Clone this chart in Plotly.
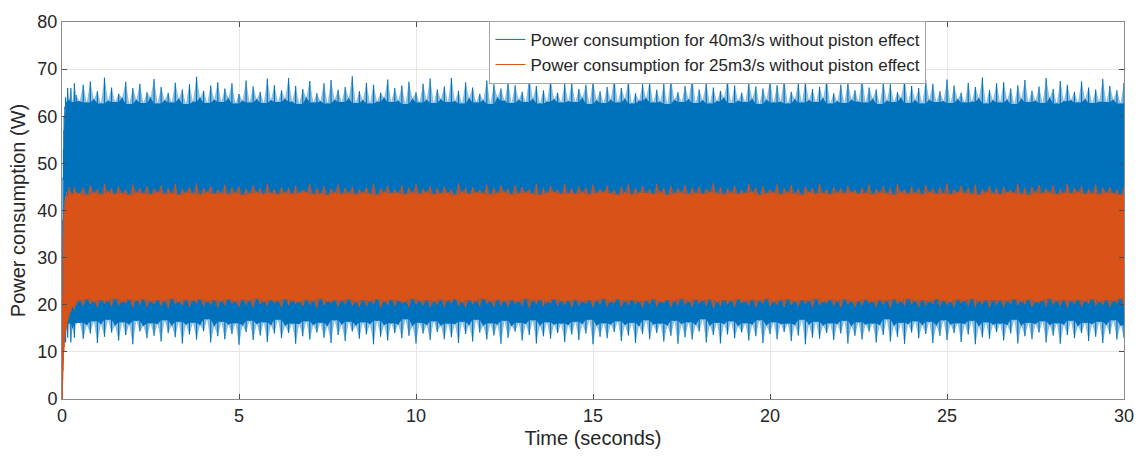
import numpy as np
import plotly.graph_objects as go

# Sample times (s): fine steps through the start-up, then every 0.1 s
t_start = [0, 0.01, 0.02, 0.03, 0.04, 0.05, 0.06, 0.08, 0.1, 0.13, 0.16, 0.2, 0.25, 0.3, 0.35, 0.4]
t_steady = np.round(np.arange(0.5, 30.0001, 0.1), 2).tolist()
time = t_start + t_steady

# 40 m3/s case: upper and lower peaks of the power signal (W)
p40_hi_start = [0, 22, 38, 47, 53, 57, 60, 62, 64, 63, 66, 63.5, 66, 63, 67, 64.5]
p40_hi = [
    63.2, 66.7, 62.9, 67.4, 63.6, 65.3, 62.7, 68.2, 63.3, 66.1, 63.0, 64.8, 63.9, 67.3, 62.6, 66.0, 63.5, 66.9, 62.8, 65.1,
    64.0, 67.9, 62.7, 66.2, 63.4, 65.0, 62.9, 67.1, 63.7, 65.7, 62.6, 66.8, 63.1, 68.4, 63.9, 65.4, 62.8, 66.5, 63.5, 67.2,
    63.0, 65.9, 63.8, 67.0, 62.7, 64.7, 63.3, 67.6, 62.9, 66.3, 63.6, 65.2, 62.8, 68.0, 63.4, 66.6, 63.0, 65.5, 63.7, 68.1,
    63.1, 66.4, 62.6, 65.8, 64.0, 67.5, 62.9, 64.9, 63.2, 67.0, 62.7, 67.7, 63.5, 65.6, 63.0, 66.2, 63.8, 68.5, 62.8, 65.3,
    63.4, 67.1, 62.7, 66.7, 63.1, 65.0, 63.9, 67.8, 63.0, 66.0, 63.3, 66.5, 62.6, 67.3, 63.7, 65.1, 62.9, 66.9, 63.5, 68.0,
    62.8, 65.7, 63.6, 66.3, 63.0, 68.1, 63.2, 65.4, 62.7, 67.2, 63.8, 66.1, 62.9, 64.8, 63.4, 67.6, 62.6, 66.8, 64.0, 65.9,
    63.3, 67.4, 62.8, 66.6, 63.5, 65.2, 63.0, 68.3, 63.7, 66.4, 62.7, 65.5, 63.1, 67.9, 63.6, 65.0, 62.9, 67.0, 63.2, 67.1,
    63.0, 65.8, 63.9, 66.7, 62.6, 67.7, 63.4, 65.3, 62.8, 66.2, 63.5, 68.2, 62.9, 66.0, 63.7, 67.5, 62.7, 64.9, 63.3, 66.8,
    63.8, 67.3, 62.9, 65.6, 63.1, 66.9, 62.6, 68.0, 63.5, 65.1, 63.0, 66.4, 63.6, 68.4, 62.8, 65.7, 63.4, 67.2, 62.7, 66.1,
    63.2, 65.4, 63.9, 67.8, 62.8, 66.5, 63.3, 65.0, 63.0, 67.1, 63.7, 66.3, 62.6, 65.9, 63.5, 67.7, 62.9, 66.6, 63.1, 68.1,
    62.7, 65.2, 63.6, 67.0, 62.9, 67.5, 63.4, 65.8, 63.0, 66.2, 63.8, 67.9, 62.7, 64.9, 63.2, 66.7, 62.8, 67.4, 63.5, 65.5,
    63.1, 68.3, 62.9, 66.1, 63.7, 65.7, 62.6, 67.3, 63.3, 66.8, 63.0, 65.1, 63.9, 68.0, 62.8, 66.4, 63.4, 66.0, 62.7, 67.6,
    63.5, 66.9, 63.0, 65.3, 63.2, 67.8, 62.8, 66.5, 63.6, 65.0, 62.9, 67.1, 63.1, 66.2, 63.8, 68.2, 62.7, 65.6, 63.4, 67.0,
    62.9, 67.2, 63.5, 65.9, 62.6, 66.6, 63.7, 67.7, 63.0, 65.4, 63.3, 66.3, 62.8, 68.1, 63.9, 65.8, 62.7, 67.5, 63.2, 66.7,
    63.4, 65.2, 62.9, 67.4, 63.6, 66.1, 62.8, 65.7, 63.1, 67.9, 63.0, 66.4, 63.5, 65.5, 62.7, 67.1,
]
p40_lo_start = [0, 4, 8, 11, 12, 13, 12, 14, 12, 15, 13, 16, 12, 15, 13, 16]
p40_lo = [
    16.2, 12.8, 15.7, 13.9, 16.5, 11.9, 15.9, 13.2, 16.8, 14.1, 15.6, 12.4, 16.3, 13.6, 15.8, 11.6, 16.6, 14.3, 15.5, 12.9,
    16.1, 13.4, 15.9, 12.2, 16.7, 14.0, 15.6, 13.1, 16.4, 11.8, 15.8, 13.7, 16.2, 12.6, 15.7, 14.4, 16.9, 12.0, 15.5, 13.3,
    16.4, 12.7, 15.8, 13.8, 16.1, 11.5, 15.6, 14.2, 16.6, 12.5, 15.9, 13.5, 16.3, 12.1, 15.7, 13.9, 16.8, 12.9, 15.6, 14.0,
    16.0, 11.7, 15.9, 13.3, 16.5, 12.6, 15.7, 14.1, 16.2, 13.0, 15.5, 11.9, 16.7, 13.6, 15.8, 12.3, 16.4, 14.3, 15.6, 12.8,
    16.3, 13.7, 15.9, 11.6, 16.6, 13.2, 15.7, 12.4, 16.1, 14.0, 15.8, 12.9, 16.9, 13.4, 15.5, 11.8, 16.2, 13.9, 15.7, 12.5,
    16.5, 14.2, 15.6, 12.7, 16.0, 13.1, 15.9, 11.9, 16.4, 13.8, 15.7, 12.2, 16.8, 14.1, 15.6, 12.6, 16.1, 13.5, 15.8, 11.7,
    16.6, 13.0, 15.5, 14.3, 16.2, 12.4, 15.9, 13.6, 16.7, 11.8, 15.6, 13.3, 16.3, 12.8, 15.8, 14.0, 16.0, 12.1, 15.7, 13.7,
    16.4, 12.5, 15.9, 13.9, 16.8, 11.6, 15.6, 13.2, 16.1, 12.9, 15.8, 14.2, 16.5, 12.3, 15.7, 13.5, 16.2, 11.9, 15.5, 13.8,
    16.7, 12.7, 15.8, 14.0, 16.0, 12.2, 15.6, 13.4, 16.6, 11.7, 15.9, 13.1, 16.3, 12.6, 15.7, 14.3, 16.9, 12.0, 15.6, 13.6,
    16.2, 11.8, 15.9, 13.7, 16.5, 12.9, 15.5, 14.1, 16.1, 12.4, 15.8, 13.3, 16.7, 11.9, 15.6, 13.8, 16.3, 12.7, 15.9, 14.2,
    16.0, 12.3, 15.7, 13.5, 16.8, 11.6, 15.8, 13.0, 16.4, 12.8, 15.6, 14.0, 16.1, 12.5, 15.9, 13.9, 16.6, 11.8, 15.5, 13.4,
    16.3, 12.6, 15.8, 14.3, 16.0, 12.0, 15.7, 13.6, 16.9, 12.2, 15.6, 13.2, 16.2, 11.7, 15.9, 14.1, 16.5, 12.9, 15.7, 13.8,
    16.4, 11.9, 15.6, 13.4, 16.7, 12.5, 15.8, 14.0, 16.1, 12.1, 15.9, 13.7, 16.6, 11.6, 15.5, 13.1, 16.3, 12.8, 15.8, 14.2,
    16.0, 12.4, 15.7, 13.9, 16.8, 11.8, 15.6, 13.3, 16.2, 12.7, 15.9, 14.1, 16.5, 12.0, 15.7, 13.5, 16.1, 11.7, 15.8, 13.6,
    16.6, 12.9, 15.5, 14.0, 16.2, 12.3, 15.9, 13.2, 16.4, 11.9, 15.7, 13.8, 16.7, 12.6, 15.6, 13.0,
]

# 25 m3/s case: upper and lower peaks of the power signal (W)
p25_hi_start = [0, 12, 22, 30, 35, 38, 40, 42, 43, 44, 43, 45, 44, 43.5, 45, 44]
p25_hi = [
    43.6, 44.9, 43.3, 45.4, 43.8, 44.5, 43.4, 45.7, 43.9, 44.7, 43.5, 45.1, 43.7, 44.4, 43.3, 45.5, 43.8, 44.8, 43.6, 45.2,
    43.4, 44.6, 43.9, 45.3, 43.5, 44.8, 43.7, 45.6, 43.3, 44.5, 43.8, 45.0, 43.6, 45.8, 43.4, 44.7, 43.9, 45.2, 43.5, 44.4,
    43.7, 45.5, 43.4, 44.9, 43.8, 45.1, 43.3, 44.6, 43.6, 45.4, 43.9, 44.7, 43.5, 45.7, 43.7, 44.5, 43.4, 45.0, 43.8, 44.8,
    43.5, 45.3, 43.7, 44.4, 43.9, 45.6, 43.4, 44.9, 43.6, 45.2, 43.3, 44.6, 43.8, 45.5, 43.5, 44.8, 43.7, 45.1, 43.4, 44.5,
    43.8, 45.0, 43.5, 45.7, 43.3, 44.7, 43.9, 45.3, 43.6, 44.4, 43.7, 45.4, 43.4, 44.9, 43.8, 45.6, 43.5, 44.6, 43.9, 45.2,
    43.4, 44.8, 43.6, 45.1, 43.7, 44.5, 43.3, 45.8, 43.9, 44.7, 43.5, 45.0, 43.8, 44.4, 43.6, 45.5, 43.4, 44.9, 43.7, 45.3,
    43.9, 44.6, 43.4, 45.4, 43.6, 45.0, 43.8, 44.5, 43.5, 45.7, 43.3, 44.8, 43.7, 45.2, 43.9, 44.4, 43.5, 45.6, 43.6, 44.7,
    43.5, 45.1, 43.8, 44.9, 43.4, 45.5, 43.7, 44.6, 43.9, 45.3, 43.6, 44.4, 43.3, 45.0, 43.8, 45.7, 43.4, 44.8, 43.7, 45.2,
    43.7, 44.5, 43.5, 45.6, 43.9, 44.8, 43.3, 45.2, 43.6, 44.7, 43.8, 45.4, 43.4, 44.9, 43.7, 45.1, 43.5, 44.6, 43.9, 45.8,
    43.6, 45.0, 43.4, 44.7, 43.8, 45.3, 43.5, 44.4, 43.7, 45.6, 43.9, 44.9, 43.3, 45.2, 43.6, 44.5, 43.8, 45.5, 43.4, 44.8,
    43.8, 45.4, 43.6, 44.6, 43.3, 45.1, 43.9, 44.8, 43.5, 45.7, 43.7, 44.5, 43.4, 45.0, 43.8, 44.7, 43.6, 45.3, 43.9, 44.4,
    43.5, 44.9, 43.7, 45.5, 43.4, 44.6, 43.8, 45.2, 43.6, 44.8, 43.3, 45.6, 43.9, 44.5, 43.5, 45.1, 43.7, 44.7, 43.4, 45.4,
    43.9, 44.7, 43.5, 45.0, 43.6, 45.8, 43.4, 44.5, 43.8, 45.3, 43.7, 44.9, 43.5, 45.5, 43.3, 44.6, 43.9, 45.2, 43.6, 44.8,
    43.4, 45.1, 43.8, 44.4, 43.7, 45.6, 43.5, 44.9, 43.3, 45.0, 43.9, 45.4, 43.6, 44.7, 43.8, 45.3, 43.4, 44.5, 43.7, 45.7,
    43.6, 44.8, 43.9, 45.2, 43.5, 44.6, 43.7, 45.5, 43.4, 44.9, 43.8, 45.0, 43.6, 44.4, 43.3, 45.1,
]
p25_lo_start = [0, 2, 4, 6, 8, 10, 11, 13, 14, 15, 16.5, 17.5, 18.5, 19.5, 19, 20]
p25_lo = [
    20.9, 19.8, 21.2, 20.1, 20.7, 19.5, 21.0, 20.2, 20.8, 19.7, 21.3, 19.9, 20.6, 20.3, 21.1, 19.4, 20.9, 20.0, 21.2, 19.6,
    20.7, 20.1, 21.0, 19.8, 20.8, 19.3, 21.3, 20.2, 20.6, 19.9, 21.1, 19.6, 20.9, 20.3, 21.2, 19.7, 20.7, 20.0, 21.0, 19.5,
    20.8, 19.9, 21.2, 20.2, 20.6, 19.6, 21.1, 20.0, 20.9, 19.4, 21.3, 20.1, 20.7, 19.8, 21.0, 20.3, 20.8, 19.5, 21.2, 19.9,
    20.9, 20.2, 20.6, 19.7, 21.1, 20.0, 20.8, 19.3, 21.3, 19.9, 20.7, 20.3, 21.0, 19.6, 20.9, 20.1, 21.2, 19.8, 20.6, 19.5,
    21.0, 19.7, 20.8, 20.2, 21.2, 19.4, 20.7, 20.0, 21.1, 19.8, 20.9, 20.3, 20.6, 19.6, 21.3, 20.1, 20.8, 19.9, 21.0, 19.5,
    20.7, 20.0, 21.1, 19.6, 20.9, 20.3, 21.2, 19.8, 20.6, 19.4, 21.0, 20.1, 20.8, 19.7, 21.3, 20.2, 20.7, 19.5, 21.1, 19.9,
    20.8, 19.6, 21.0, 20.2, 20.7, 19.9, 21.3, 19.3, 20.9, 20.1, 21.1, 19.7, 20.6, 20.3, 21.2, 19.8, 20.8, 20.0, 20.9, 19.5,
    21.1, 19.9, 20.7, 20.2, 21.0, 19.5, 20.9, 20.1, 21.3, 19.7, 20.6, 20.3, 21.2, 19.6, 20.8, 19.9, 21.0, 20.2, 20.7, 19.4,
    20.9, 20.1, 21.2, 19.7, 20.6, 20.3, 21.0, 19.5, 20.8, 19.9, 21.3, 20.0, 20.7, 19.6, 21.1, 20.2, 20.9, 19.8, 21.2, 19.3,
    20.6, 19.8, 21.0, 20.1, 20.8, 19.6, 21.2, 20.3, 20.7, 19.9, 21.1, 19.4, 20.9, 20.2, 21.3, 19.7, 20.6, 20.0, 21.0, 19.5,
    21.2, 20.0, 20.7, 19.7, 21.0, 20.2, 20.9, 19.5, 21.3, 19.9, 20.6, 20.3, 21.1, 19.8, 20.8, 19.4, 21.2, 20.1, 20.7, 19.6,
    20.8, 19.9, 21.1, 20.3, 20.6, 19.6, 21.0, 20.0, 20.9, 19.3, 21.2, 20.2, 20.7, 19.8, 21.3, 20.1, 20.8, 19.5, 21.0, 19.9,
    20.7, 20.2, 21.2, 19.7, 20.9, 20.0, 20.6, 19.5, 21.1, 20.3, 20.8, 19.8, 21.3, 19.6, 20.7, 20.1, 21.0, 19.4, 20.9, 20.0,
    21.0, 19.6, 20.8, 20.2, 21.2, 19.9, 20.7, 20.1, 21.1, 19.5, 20.6, 20.3, 20.9, 19.7, 21.3, 20.0, 20.8, 19.8, 21.0, 19.4,
    20.9, 20.1, 21.1, 19.6, 20.7, 20.2, 21.2, 19.8, 20.6, 20.0, 21.0, 19.5, 20.8, 20.3, 21.3, 19.7,
]

series_names = [
    "Power consumption for 40m3/s without piston effect",
    "Power consumption for 25m3/s without piston effect",
]
x_ticks = [0, 5, 10, 15, 20, 25, 30]
y_ticks = [0, 10, 20, 30, 40, 50, 60, 70, 80]

BLUE = "#0072BD"
ORANGE = "#D95319"
HAZE = {BLUE: "rgba(0,114,189,0.45)", ORANGE: "rgba(217,83,25,0.55)"}

fig = go.Figure()


def add_band(lo, hi, color):
    """Dense oscillating signal drawn as a solid core, a faint haze up to
    the peaks and thin needles reaching each peak."""
    n = len(time)
    assert len(lo) == len(hi) == n
    # solid core: the envelope that the signal crosses on every swing
    core_hi = [min(hi[max(i - 1, 0):i + 2]) for i in range(n)]
    core_lo = [max(lo[max(i - 1, 0):i + 2]) for i in range(n)]

    fig.add_trace(go.Scatter(x=time, y=lo, mode="lines", line=dict(width=0),
                             showlegend=False, hoverinfo="skip"))
    fig.add_trace(go.Scatter(x=time, y=hi, mode="lines", line=dict(width=0),
                             fill="tonexty", fillcolor=HAZE[color],
                             showlegend=False, hoverinfo="skip"))
    fig.add_trace(go.Scatter(x=time, y=core_lo, mode="lines", line=dict(width=0),
                             showlegend=False, hoverinfo="skip"))
    fig.add_trace(go.Scatter(x=time, y=core_hi, mode="lines", line=dict(width=0),
                             fill="tonexty", fillcolor=color,
                             showlegend=False, hoverinfo="skip"))

    nx, ny = [], []
    for t, a, b, c, d in zip(time, core_hi, hi, core_lo, lo):
        nx += [t, t, None, t, t, None]
        ny += [a - 0.5, b, None, c + 0.5, d, None]
    fig.add_trace(go.Scatter(x=nx, y=ny, mode="lines", line=dict(color=color, width=1.2),
                             connectgaps=False, showlegend=False, hoverinfo="skip"))


add_band(p40_lo_start + p40_lo, p40_hi_start + p40_hi, BLUE)
add_band(p25_lo_start + p25_lo, p25_hi_start + p25_hi, ORANGE)

# legend entries drawn as thin line samples
for name, color in zip(series_names, [BLUE, ORANGE]):
    fig.add_trace(go.Scatter(x=[None], y=[None], mode="lines", name=name,
                             line=dict(color=color, width=1)))

axis_common = dict(
    showgrid=True, gridcolor="#e6e6e6", gridwidth=1,
    showline=True, linecolor="#8c8c8c", linewidth=1, mirror="ticks",
    ticks="inside", ticklen=5, tickcolor="#4d4d4d",
    tickfont=dict(family="Liberation Sans, Arial, sans-serif", size=18, color="#262626"),
    zeroline=False,
)

fig.update_xaxes(range=[0, 30], tickvals=x_ticks,
                 title=dict(text="Time (seconds)", font=dict(size=20, color="#262626"), standoff=6),
                 **axis_common)
fig.update_yaxes(range=[0, 80], tickvals=y_ticks,
                 title=dict(text="Power consumption (W)", font=dict(size=20, color="#262626"), standoff=6),
                 **axis_common)

fig.update_layout(
    width=1146, height=458,
    margin=dict(l=62, r=18, t=18, b=58),
    paper_bgcolor="white", plot_bgcolor="white",
    font=dict(family="Liberation Sans, Arial, sans-serif", color="#262626"),
    legend=dict(x=0.4025, y=1.003, xanchor="left", yanchor="top",
                bgcolor="white", bordercolor="#a6a6a6", borderwidth=1,
                font=dict(size=17, color="#262626"), tracegroupgap=0,
                traceorder="normal", itemwidth=30),
    showlegend=True,
)

fig.write_html("out.html")
